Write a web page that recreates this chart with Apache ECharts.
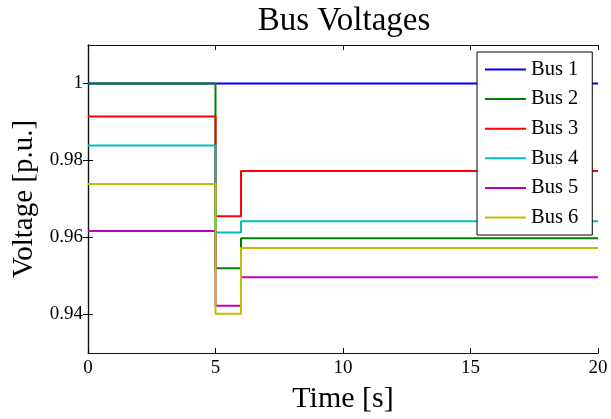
<!DOCTYPE html>
<html><head><meta charset="utf-8">
<script src="https://cdn.jsdelivr.net/npm/echarts@6/dist/echarts.min.js"></script>
<style>html,body{margin:0;padding:0;background:#fff}#c{width:611px;height:419px}</style>
</head><body><div id="c"></div>
<script>
// switching times (s): start, fault on, fault cleared, end
const times = [0, 5, 6, 20];
const busNames = ['Bus 1', 'Bus 2', 'Bus 3', 'Bus 4', 'Bus 5', 'Bus 6'];
// voltage levels [pre-fault, during fault, post-fault] in p.u.
const bus1 = [1.0000, 1.0000, 1.0000];
const bus2 = [1.0000, 0.9520, 0.9598];
const bus3 = [0.9914, 0.9655, 0.9773];
const bus4 = [0.9839, 0.9613, 0.9642];
const bus5 = [0.9617, 0.9423, 0.9497];
const bus6 = [0.9739, 0.9402, 0.9573];
const colors = ['#0000ff', '#008000', '#ff0000', '#00bfbf', '#bf00bf', '#bfbf00'];
const yTicks = [0.94, 0.96, 0.98, 1];

const levels = [bus1, bus2, bus3, bus4, bus5, bus6];
const font = 'Liberation Serif';
const series = levels.map((lv, i) => ({
  name: busNames[i], type: 'line', step: 'end', symbol: 'none',
  data: [[times[0], lv[0]], [times[1], lv[1]], [times[2], lv[2]], [times[3], lv[2]]],
  lineStyle: { color: colors[i], width: 2 }, itemStyle: { color: colors[i] },
  animation: false
}));
const axisCommon = {
  axisLine: { show: true, lineStyle: { color: '#111', width: 1.2 } },
  splitLine: { show: false },
};
const chart = echarts.init(document.getElementById('c'), null, { renderer: 'canvas' });
chart.setOption({
  animation: false,
  title: { text: 'Bus Voltages', left: 339, textAlign: 'center', top: 0,
    textStyle: { fontFamily: font, fontWeight: 'normal', fontSize: 33, color: '#000' } },
  grid: { left: 88, right: 13, top: 45, bottom: 63 },
  legend: {
    orient: 'vertical', left: 477, top: 52, data: busNames, icon: 'rect',
    backgroundColor: '#fff', borderColor: '#000', borderWidth: 1,
    padding: [7, 14, 7, 8], itemWidth: 41, itemHeight: 2, itemGap: 8.6,
    textStyle: { fontFamily: font, fontSize: 20.5, color: '#000', lineHeight: 20 }
  },
  xAxis: [
    Object.assign({ type: 'value', min: 0, max: 20, interval: 5, position: 'bottom',
      name: 'Time [s]', nameLocation: 'middle', nameGap: 31,
      nameTextStyle: { fontFamily: font, fontSize: 30, color: '#000', lineHeight: 30 },
      axisTick: { inside: true, length: 5, lineStyle: { color: '#000' } },
      axisLabel: { fontFamily: font, fontSize: 19, color: '#000', margin: 6 } }, axisCommon),
    Object.assign({ type: 'value', min: 0, max: 20, interval: 5, position: 'top',
      axisTick: { inside: true, length: 5, lineStyle: { color: '#000' } },
      axisLabel: { show: false } }, axisCommon)
  ],
  yAxis: [
    Object.assign({ type: 'value', min: 0.93, max: 1.01, position: 'left',
      name: 'Voltage [p.u.]', nameLocation: 'middle', nameGap: 47,
      nameTextStyle: { fontFamily: font, fontSize: 29, color: '#000' },
      axisTick: { inside: true, length: 5, customValues: yTicks, lineStyle: { color: '#000' } },
      axisLabel: { fontFamily: font, fontSize: 19, color: '#000', margin: 5, customValues: yTicks,
        formatter: v => String(+(+v).toFixed(2)) } }, axisCommon),
    Object.assign({ type: 'value', min: 0.93, max: 1.01, position: 'right',
      axisTick: { inside: true, length: 5, customValues: yTicks, lineStyle: { color: '#000' } },
      axisLabel: { show: false } }, axisCommon)
  ],
  series: series
});
</script></body></html>
